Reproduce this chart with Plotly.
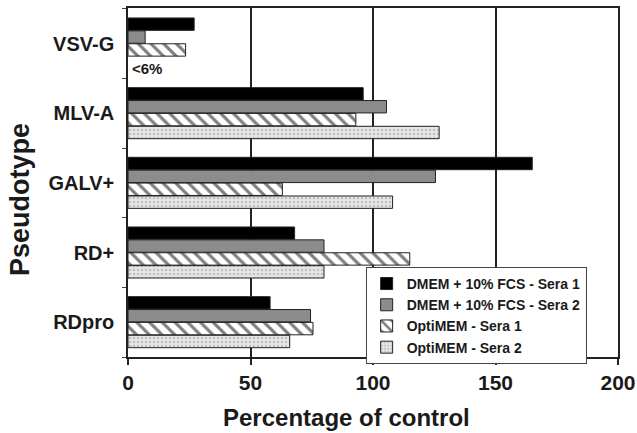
import plotly.graph_objects as go

categories = ["VSV-G", "MLV-A", "GALV+", "RD+", "RDpro"]
series_names = ["DMEM + 10% FCS - Sera 1", "DMEM + 10% FCS - Sera 2",
                "OptiMEM - Sera 1", "OptiMEM - Sera 2"]
dmem_sera1 = [27, 96, 165, 68, 58]
dmem_sera2 = [7, 105.5, 125.5, 80, 74.5]
opti_sera1 = [23.5, 93, 63, 115, 75.5]
opti_sera2 = [None, 127, 108, 80, 66]
x_ticks = [0, 50, 100, 150, 200]

FONT = "Liberation Sans"
INK = "#1a1a1a"

fig = go.Figure()
styles = [
    dict(color="black"),
    dict(color="#8c8c8c"),
    dict(color="white", pattern=dict(shape="\\", fgcolor="black", bgcolor="white", size=9, solidity=0.35)),
    dict(color="#dcdcdc", pattern=dict(shape=".", fgcolor="#9a9a9a", bgcolor="#e6e6e6", size=4, solidity=0.3)),
]
for name, vals, st in zip(series_names, [dmem_sera1, dmem_sera2, opti_sera1, opti_sera2], styles):
    fig.add_trace(go.Bar(
        y=categories, x=vals, name=f"<b>{name}</b>", orientation="h",
        marker=dict(line=dict(color="#222", width=1), **st),
    ))

fig.add_annotation(x=1, y="VSV-G", yshift=-25, xanchor="left", text="<b>&lt;6%</b>",
                   showarrow=False, font=dict(family=FONT, size=15, color=INK))

fig.add_annotation(xref="paper", yref="paper", x=0.445, y=-0.128, yanchor="top",
                   text="<b>Percentage of control</b>", showarrow=False,
                   font=dict(family=FONT, size=24, color=INK))
fig.add_annotation(xref="paper", yref="paper", x=-0.255, y=0.45, textangle=-90,
                   text="<b>Pseudotype</b>", showarrow=False,
                   font=dict(family=FONT, size=27, color=INK))

fig.update_layout(
    width=637, height=433,
    margin=dict(l=128, r=19, t=8, b=76),
    barmode="group", bargap=0.26, bargroupgap=0.04,
    plot_bgcolor="white", paper_bgcolor="white",
    font=dict(family=FONT, color=INK),
    showlegend=True,
    legend=dict(x=0.485, y=0.258, xanchor="left", yanchor="top",
                bgcolor="white", bordercolor="#444", borderwidth=1,
                font=dict(family=FONT, size=14, color=INK),
                tracegroupgap=0, traceorder="normal", itemwidth=30),
    xaxis=dict(range=[0, 200], tickvals=x_ticks, automargin=False,
               ticktext=[f"<b>{v}</b>" for v in x_ticks],
               tickfont=dict(family=FONT, size=21, color=INK),
               showgrid=True, gridcolor="#222", gridwidth=1.5,
               showline=True, linecolor="#222", linewidth=1.5, mirror=True,
               ticks="outside", ticklen=6, tickcolor="#222", tickwidth=1.5,
               zeroline=False, fixedrange=True),
    yaxis=dict(autorange="reversed", categoryorder="array", categoryarray=categories,
               tickvals=categories, ticktext=[f"<b>{c}</b>" for c in categories],
               automargin=False,
               tickfont=dict(family=FONT, size=20, color=INK),
               tickson="boundaries", ticks="outside", ticklen=4, tickcolor="#444",
               showline=True, linecolor="#222", linewidth=1.5, mirror=True,
               showgrid=False, ticklabelstandoff=8),
)

fig.write_html("out.html")
